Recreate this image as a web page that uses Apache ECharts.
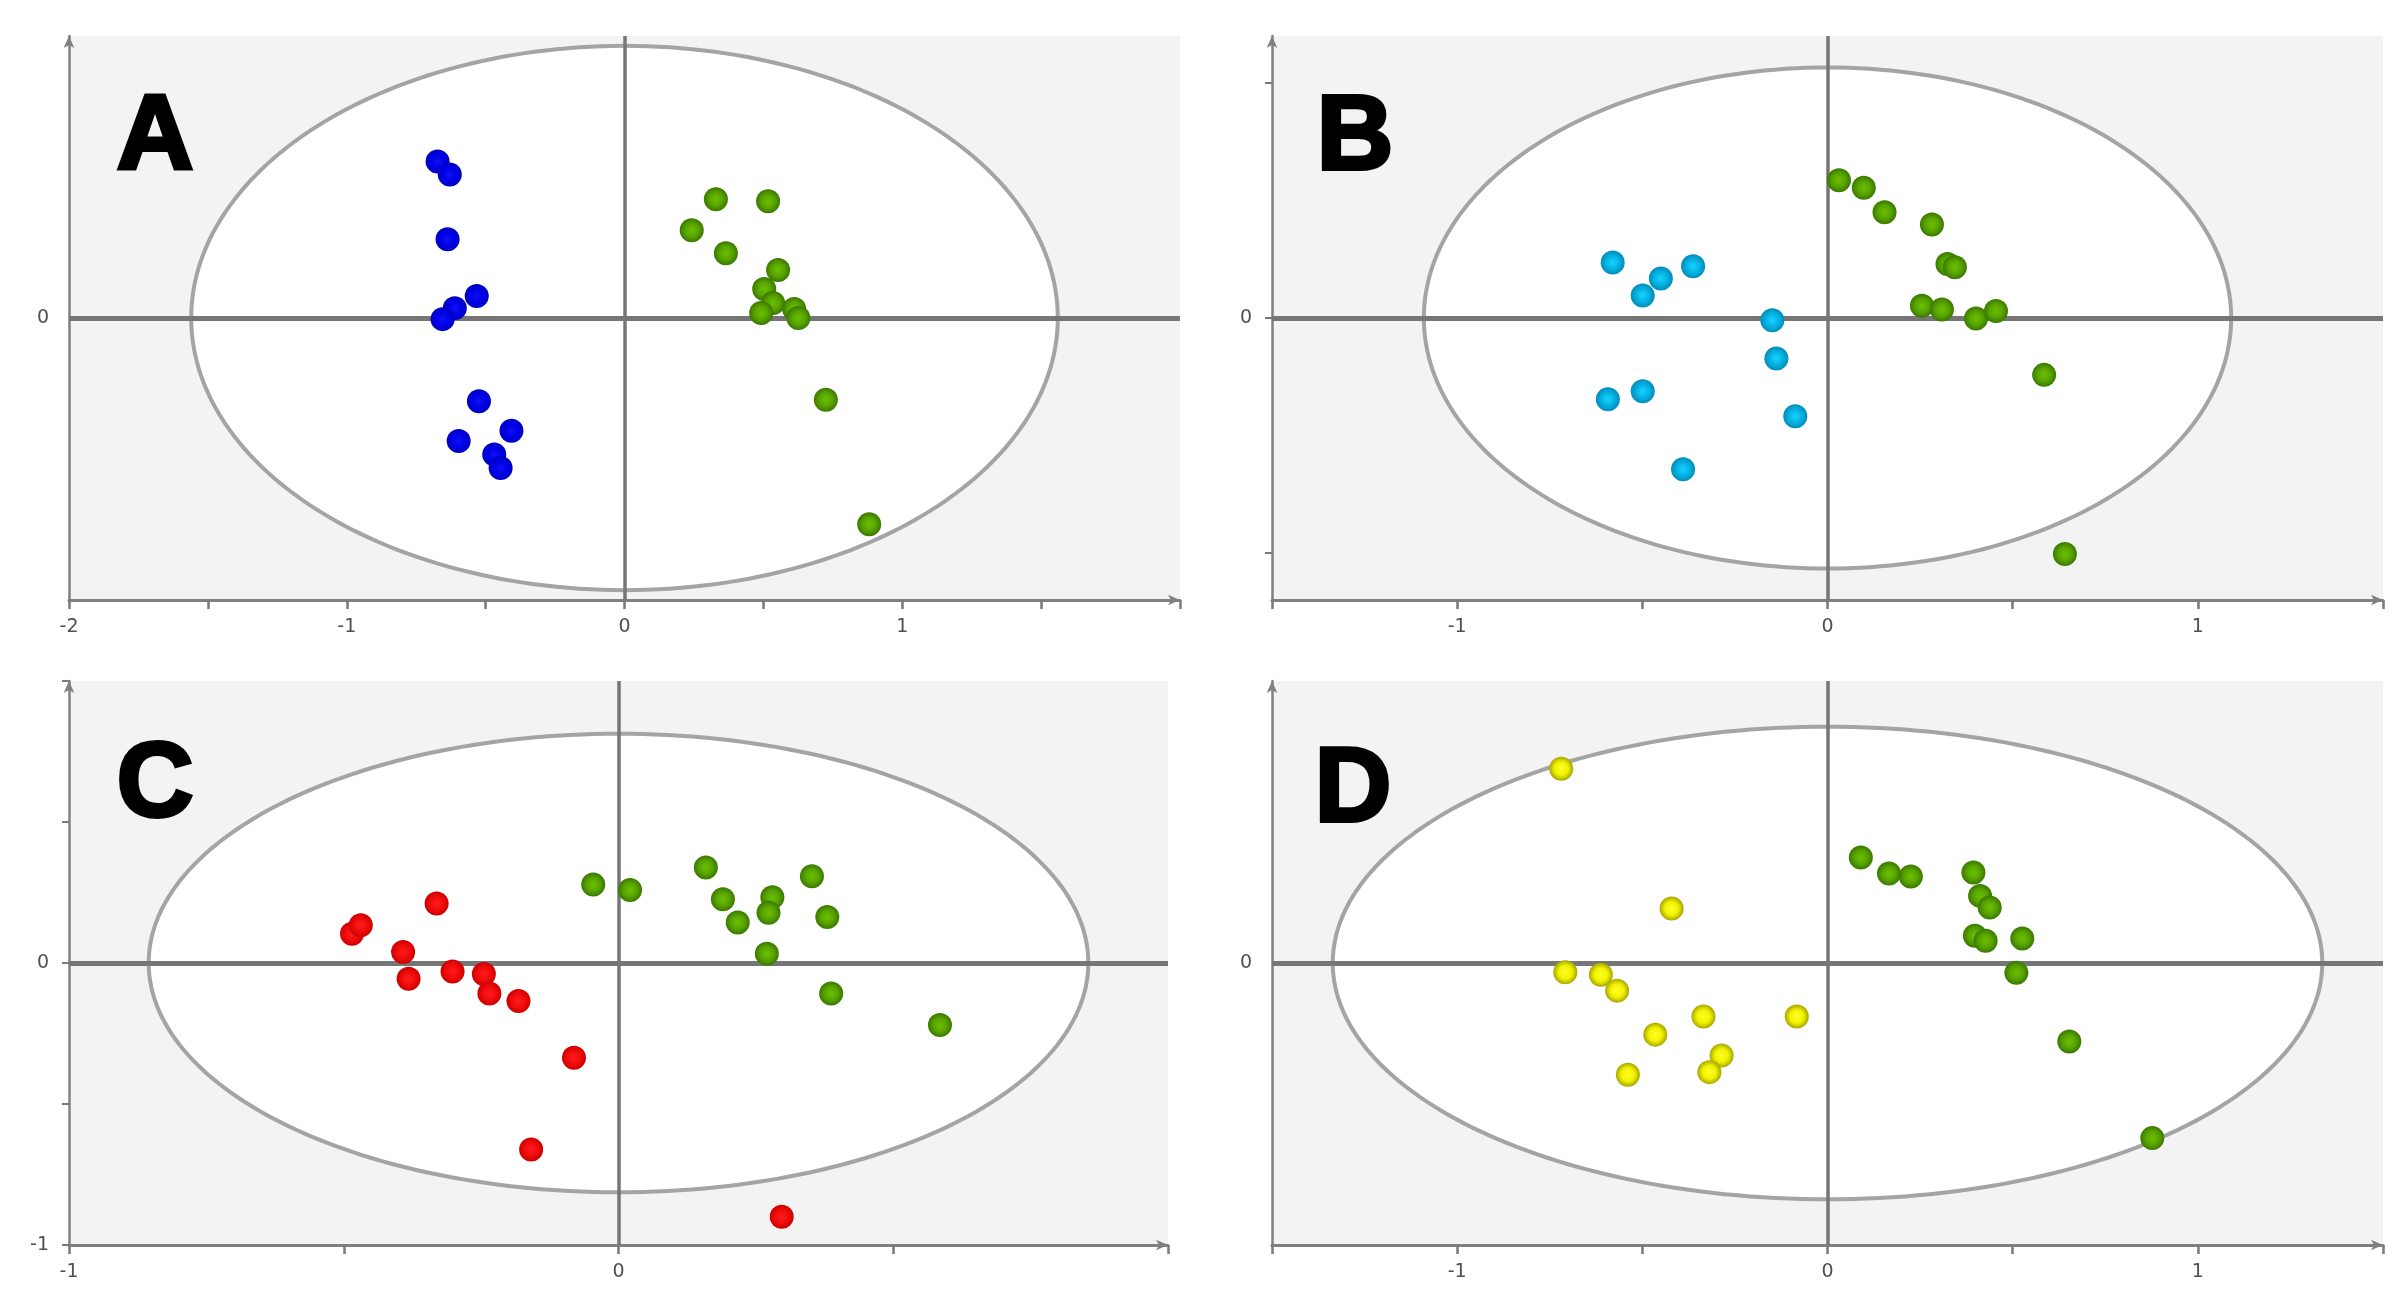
<!DOCTYPE html>
<html>
<head>
<meta charset="utf-8">
<script src="https://cdn.jsdelivr.net/npm/echarts@6/dist/echarts.min.js"></script>
<style>
  html, body { margin: 0; padding: 0; background: #fff; }
  #main { width: 2406px; height: 1309px; }
</style>
</head>
<body>
<div id="main"></div>
<script>
// panel letters
const panelLetters = ['A', 'B', 'C', 'D'];

// score values, [t1, t2]
const aBlue = [[-0.673, 0.555], [-0.629, 0.509], [-0.637, 0.279], [-0.532, 0.078], [-0.611, 0.035],
  [-0.655, -0.004], [-0.524, -0.295], [-0.407, -0.400], [-0.597, -0.436], [-0.469, -0.484], [-0.446, -0.532]];
const aGreen = [[0.329, 0.421], [0.517, 0.414], [0.242, 0.311], [0.365, 0.230], [0.553, 0.170], [0.503, 0.103],
  [0.535, 0.053], [0.492, 0.018], [0.611, 0.032], [0.626, 0.0], [0.725, -0.290], [0.881, -0.731]];

const bCyan = [[-0.580, 0.118], [-0.450, 0.084], [-0.363, 0.110], [-0.499, 0.048], [-0.149, -0.005],
  [-0.138, -0.086], [-0.499, -0.156], [-0.593, -0.173], [-0.087, -0.209], [-0.390, -0.322]];
const bGreen = [[0.031, 0.293], [0.098, 0.277], [0.154, 0.225], [0.282, 0.199], [0.324, 0.115], [0.344, 0.108],
  [0.255, 0.026], [0.309, 0.018], [0.401, -0.001], [0.455, 0.015], [0.585, -0.121], [0.641, -0.502]];

const cRed = [[-0.485, 0.104], [-0.469, 0.134], [-0.331, 0.211], [-0.392, 0.039], [-0.382, -0.056], [-0.302, -0.030],
  [-0.245, -0.039], [-0.235, -0.108], [-0.182, -0.135], [-0.081, -0.336], [-0.159, -0.661], [0.297, -0.900]];
const cGreen = [[-0.046, 0.278], [0.021, 0.259], [0.159, 0.339], [0.190, 0.226], [0.280, 0.233], [0.217, 0.144],
  [0.273, 0.178], [0.352, 0.308], [0.380, 0.163], [0.270, 0.033], [0.387, -0.108], [0.585, -0.220]];

const dYellow = [[-0.719, 0.689], [-0.421, 0.193], [-0.708, -0.033], [-0.612, -0.042], [-0.568, -0.098],
  [-0.335, -0.190], [-0.083, -0.190], [-0.465, -0.254], [-0.286, -0.328], [-0.319, -0.387], [-0.539, -0.396]];
const dGreen = [[0.090, 0.374], [0.166, 0.317], [0.225, 0.307], [0.394, 0.321], [0.412, 0.238], [0.438, 0.197],
  [0.398, 0.097], [0.427, 0.079], [0.526, 0.087], [0.510, -0.035], [0.653, -0.278], [0.877, -0.621]];

// confidence ellipse semi axes per panel [a, b]
const ellipseAxes = [[1.56, 0.965], [1.09, 0.533], [0.855, 0.813], [1.336, 0.838]];

// axis ranges per panel
const xRanges = [[-2, 2], [-1.5, 1.5], [-1, 1], [-1.5, 1.5]];
const yRanges = [[-1, 1], [-0.6, 0.6], [-1, 1], [-1, 1]];

function dot(inner, mid, edge) {
  return {
    opacity: 1,
    color: {
      type: 'radial', x: 0.5, y: 0.5, r: 0.5,
      colorStops: [{ offset: 0, color: inner }, { offset: 0.55, color: mid }, { offset: 1, color: edge }]
    }
  };
}
const blueStyle = dot('#1010f8', '#0000e6', '#0000c0');
const greenStyle = dot('#6cc000', '#58a400', '#3a7800');
const cyanStyle = dot('#18d2ff', '#04b2e2', '#028cb8');
const redStyle = dot('#ff1c1c', '#f00c0c', '#cc0000');
const yellowStyle = dot('#ffff28', '#f2f200', '#a6a600');

const panelGroups = [
  [[aBlue, blueStyle], [aGreen, greenStyle]],
  [[bCyan, cyanStyle], [bGreen, greenStyle]],
  [[cRed, redStyle], [cGreen, greenStyle]],
  [[dYellow, yellowStyle], [dGreen, greenStyle]]
];

const grids = [
  { left: 69, top: 36, width: 1111, height: 564 },
  { left: 1272, top: 36, width: 1111, height: 564 },
  { left: 69, top: 681, width: 1099, height: 564 },
  { left: 1272, top: 681, width: 1111, height: 564 }
];
const letterPos = [[155, 140], [1355, 140], [155, 787], [1353, 792]];

const axisColor = '#808080';
const labelStyle = { fontSize: 19, color: '#505050', fontFamily: 'DejaVu Sans' };

const xAxes = [], yAxes = [], series = [];
grids.forEach(function (g, i) {
  g.show = true;
  g.backgroundColor = '#f3f3f3';
  g.borderWidth = 0;
  const xmax = xRanges[i][1];
  xAxes.push({
    gridIndex: i, type: 'value', min: xRanges[i][0], max: xmax, interval: 0.5,
    axisLine: { show: true, onZero: false, symbol: ['none', 'arrow'], symbolSize: [8, 12],
      lineStyle: { color: axisColor, width: 3 } },
    axisTick: { show: true, length: 9, lineStyle: { color: '#7a7a7a', width: 2.5 } },
    axisLabel: Object.assign({
      margin: 18,
      formatter: function (v) {
        return (Math.abs(v - Math.round(v)) < 1e-9 && v < xmax) ? String(Math.round(v)) : '';
      }
    }, labelStyle),
    splitLine: { show: false }
  });
  const y = {
    gridIndex: i, type: 'value', min: yRanges[i][0], max: yRanges[i][1],
    axisLine: { show: true, onZero: false, symbol: ['none', 'arrow'], symbolSize: [8, 12],
      lineStyle: { color: axisColor, width: 2.5 } },
    axisTick: { show: i === 1 || i === 2, length: 7, lineStyle: { color: '#7a7a7a', width: 2 } },
    axisLabel: Object.assign({
      margin: 20, showMinLabel: true,
      formatter: function (v) {
        if (Math.abs(v) < 1e-9) return '0';
        if (i === 2 && Math.abs(v + 1) < 1e-9) return '-1';
        return '';
      }
    }, labelStyle),
    splitLine: { show: false }
  };
  if (i === 1) {
    y.axisTick.customValues = [-0.5, 0, 0.5];
    y.axisLabel.customValues = [0];
  } else {
    y.interval = 0.5;
  }
  yAxes.push(y);

  const ab = ellipseAxes[i];
  series.push({
    type: 'custom', xAxisIndex: i, yAxisIndex: i, z: 1, silent: true,
    data: [[0, 0]],
    renderItem: function (params, api) {
      const pts = [];
      for (let k = 0; k <= 240; k++) {
        const t = k / 240 * Math.PI * 2;
        pts.push(api.coord([ab[0] * Math.cos(t), ab[1] * Math.sin(t)]));
      }
      return { type: 'polygon', shape: { points: pts },
        style: { fill: '#ffffff', stroke: '#a4a4a4', lineWidth: 4 } };
    }
  });

  panelGroups[i].forEach(function (grp, j) {
    const s = {
      type: 'scatter', xAxisIndex: i, yAxisIndex: i, z: 10,
      data: grp[0], symbol: 'circle', symbolSize: 24,
      itemStyle: grp[1]
    };
    if (j === 0) {
      s.markLine = {
        silent: true, z: 3, symbol: ['none', 'none'], label: { show: false },
        lineStyle: { color: '#767676', type: 'solid', opacity: 1 },
        data: [
          { xAxis: 0, lineStyle: { width: 3.5 } },
          { yAxis: 0, lineStyle: { width: 5 } }
        ]
      };
    }
    series.push(s);
  });
});

const chart = echarts.init(document.getElementById('main'));
chart.setOption({
  animation: false,
  backgroundColor: '#ffffff',
  grid: grids,
  xAxis: xAxes,
  yAxis: yAxes,
  series: series,
  graphic: panelLetters.map(function (t, i) {
    return {
      type: 'text', x: letterPos[i][0], y: letterPos[i][1], z: 50,
      style: { text: t, font: 'bold 106px "Liberation Sans"', fill: '#000', stroke: '#000', lineWidth: 4,
        textAlign: 'center', textVerticalAlign: 'middle' }
    };
  })
});
</script>
</body>
</html>
